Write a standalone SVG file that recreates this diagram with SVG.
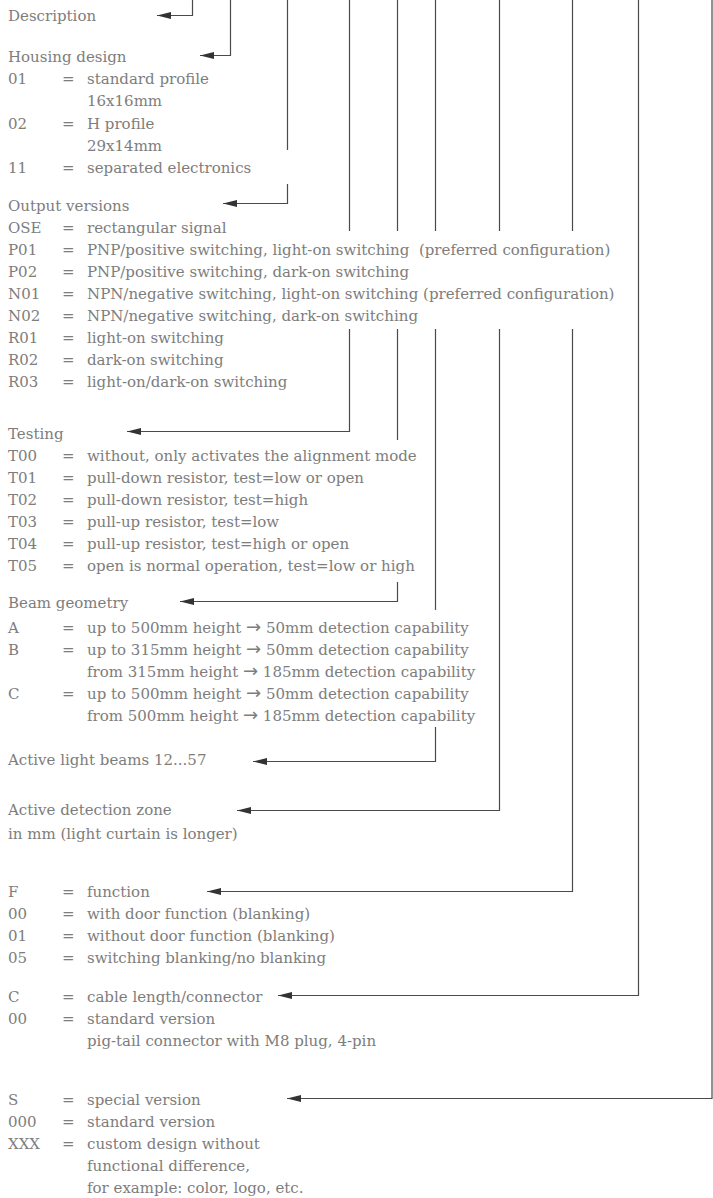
<svg xmlns="http://www.w3.org/2000/svg" width="713" height="1198" viewBox="0 0 713 1198">
<style>
text{font-family:"DejaVu Serif","Liberation Serif",serif;font-size:15px;fill:#7d7d7d;white-space:pre}
.ar{font-family:"DejaVu Sans","Liberation Sans",sans-serif;font-size:18px}
.c{fill:none;stroke:#4a4a4a;stroke-width:1.2}
</style>
<defs>
<marker id="ah" viewBox="0 0 14 7" refX="14" refY="3.5" markerWidth="14" markerHeight="7" markerUnits="userSpaceOnUse" orient="auto">
<path d="M0,0 L14,3.5 L0,7 z" fill="#333"/>
</marker>
</defs>
<rect width="713" height="1198" fill="#fff"/>
<g id="connectors">
<path class="c" d="M192.5,0 V15.5 H157" marker-end="url(#ah)"/>
<path class="c" d="M230.5,0 V55.5 H200" marker-end="url(#ah)"/>
<path class="c" d="M287.5,0 V150"/>
<path class="c" d="M287.5,184 V203.5 H223" marker-end="url(#ah)"/>
<path class="c" d="M349.5,0 V231"/>
<path class="c" d="M349.5,329 V431.5 H127" marker-end="url(#ah)"/>
<path class="c" d="M397.5,0 V231"/>
<path class="c" d="M397.5,329 V440"/>
<path class="c" d="M397.5,582 V601.5 H180" marker-end="url(#ah)"/>
<path class="c" d="M435.5,0 V231"/>
<path class="c" d="M435.5,329 V610"/>
<path class="c" d="M435.5,727 V761.5 H253" marker-end="url(#ah)"/>
<path class="c" d="M499.5,0 V231"/>
<path class="c" d="M499.5,329 V810.5 H237" marker-end="url(#ah)"/>
<path class="c" d="M572.5,0 V231"/>
<path class="c" d="M572.5,329 V891.5 H207" marker-end="url(#ah)"/>
<path class="c" d="M638.5,0 V995.5 H278" marker-end="url(#ah)"/>
<path class="c" d="M712,0 V1098.5 H287" marker-end="url(#ah)"/>
</g>
<g id="description">
<text x="8" y="21">Description</text>
</g>
<g id="housing">
<text x="8" y="62">Housing design</text>
<text x="8" y="84">01</text><text x="62" y="84">=</text><text x="87" y="84">standard profile</text>
<text x="87" y="106">16x16mm</text>
<text x="8" y="129">02</text><text x="62" y="129">=</text><text x="87" y="129">H profile</text>
<text x="87" y="151">29x14mm</text>
<text x="8" y="173">11</text><text x="62" y="173">=</text><text x="87" y="173">separated electronics</text>
</g>
<g id="output">
<text x="8" y="211">Output versions</text>
<text x="8" y="233">OSE</text><text x="62" y="233">=</text><text x="87" y="233">rectangular signal</text>
<text x="8" y="255">P01</text><text x="62" y="255">=</text><text x="87" y="255">PNP/positive switching, light-on switching  (preferred configuration)</text>
<text x="8" y="277">P02</text><text x="62" y="277">=</text><text x="87" y="277">PNP/positive switching, dark-on switching</text>
<text x="8" y="299">N01</text><text x="62" y="299">=</text><text x="87" y="299">NPN/negative switching, light-on switching (preferred configuration)</text>
<text x="8" y="321">N02</text><text x="62" y="321">=</text><text x="87" y="321">NPN/negative switching, dark-on switching</text>
<text x="8" y="343">R01</text><text x="62" y="343">=</text><text x="87" y="343">light-on switching</text>
<text x="8" y="365">R02</text><text x="62" y="365">=</text><text x="87" y="365">dark-on switching</text>
<text x="8" y="387">R03</text><text x="62" y="387">=</text><text x="87" y="387">light-on/dark-on switching</text>
</g>
<g id="testing">
<text x="8" y="439">Testing</text>
<text x="8" y="461">T00</text><text x="62" y="461">=</text><text x="87" y="461">without, only activates the alignment mode</text>
<text x="8" y="483">T01</text><text x="62" y="483">=</text><text x="87" y="483">pull-down resistor, test=low or open</text>
<text x="8" y="505">T02</text><text x="62" y="505">=</text><text x="87" y="505">pull-down resistor, test=high</text>
<text x="8" y="527">T03</text><text x="62" y="527">=</text><text x="87" y="527">pull-up resistor, test=low</text>
<text x="8" y="549">T04</text><text x="62" y="549">=</text><text x="87" y="549">pull-up resistor, test=high or open</text>
<text x="8" y="571">T05</text><text x="62" y="571">=</text><text x="87" y="571">open is normal operation, test=low or high</text>
</g>
<g id="beam">
<text x="8" y="608">Beam geometry</text>
<text x="8" y="633">A</text><text x="62" y="633">=</text><text x="87" y="633">up to 500mm height <tspan class="ar">→</tspan> 50mm detection capability</text>
<text x="8" y="655">B</text><text x="62" y="655">=</text><text x="87" y="655">up to 315mm height <tspan class="ar">→</tspan> 50mm detection capability</text>
<text x="87" y="677">from 315mm height <tspan class="ar">→</tspan> 185mm detection capability</text>
<text x="8" y="699">C</text><text x="62" y="699">=</text><text x="87" y="699">up to 500mm height <tspan class="ar">→</tspan> 50mm detection capability</text>
<text x="87" y="721">from 500mm height <tspan class="ar">→</tspan> 185mm detection capability</text>
</g>
<g id="beams">
<text x="8" y="765">Active light beams 12...57</text>
</g>
<g id="zone">
<text x="8" y="815">Active detection zone</text>
<text x="8" y="839">in mm (light curtain is longer)</text>
</g>
<g id="function">
<text x="8" y="897">F</text><text x="62" y="897">=</text><text x="87" y="897">function</text>
<text x="8" y="919">00</text><text x="62" y="919">=</text><text x="87" y="919">with door function (blanking)</text>
<text x="8" y="941">01</text><text x="62" y="941">=</text><text x="87" y="941">without door function (blanking)</text>
<text x="8" y="963">05</text><text x="62" y="963">=</text><text x="87" y="963">switching blanking/no blanking</text>
</g>
<g id="cable">
<text x="8" y="1002">C</text><text x="62" y="1002">=</text><text x="87" y="1002">cable length/connector</text>
<text x="8" y="1024">00</text><text x="62" y="1024">=</text><text x="87" y="1024">standard version</text>
<text x="87" y="1046">pig-tail connector with M8 plug, 4-pin</text>
</g>
<g id="special">
<text x="8" y="1105">S</text><text x="62" y="1105">=</text><text x="87" y="1105">special version</text>
<text x="8" y="1127">000</text><text x="62" y="1127">=</text><text x="87" y="1127">standard version</text>
<text x="8" y="1149">XXX</text><text x="62" y="1149">=</text><text x="87" y="1149">custom design without</text>
<text x="87" y="1171">functional difference,</text>
<text x="87" y="1193">for example: color, logo, etc.</text>
</g>
</svg>
